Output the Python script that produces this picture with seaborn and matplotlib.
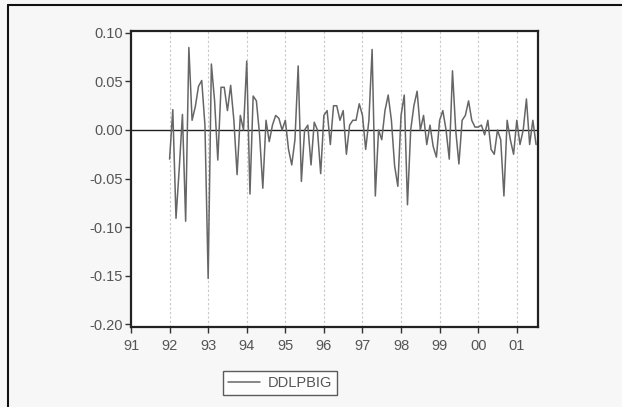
import numpy as np
import pandas as pd
import seaborn as sns
import matplotlib
matplotlib.use("Agg")
from matplotlib import pyplot as plt
from matplotlib.lines import Line2D

# monthly values, 1992:01 .. 2001:07
ddlpbig = [
    -0.030, 0.021, -0.091, -0.040, 0.016, -0.094, 0.085, 0.010, 0.024, 0.045, 0.051, 0.005,
    -0.153, 0.068, 0.030, -0.031, 0.044, 0.044, 0.020, 0.046, 0.010, -0.046, 0.015, 0.000,
    0.071, -0.066, 0.035, 0.030, -0.005, -0.060, 0.010, -0.012, 0.005, 0.015, 0.012, 0.000,
    0.010, -0.020, -0.036, -0.010, 0.066, -0.053, 0.000, 0.005, -0.036, 0.008, 0.000, -0.045,
    0.015, 0.020, -0.015, 0.025, 0.025, 0.010, 0.020, -0.025, 0.005, 0.010, 0.010, 0.027,
    0.015, -0.020, 0.010, 0.083, -0.068, 0.000, -0.010, 0.020, 0.036, 0.010, -0.037, -0.058,
    0.015, 0.036, -0.077, 0.000, 0.025, 0.040, 0.000, 0.015, -0.015, 0.005, -0.017, -0.028,
    0.010, 0.020, 0.000, -0.030, 0.061, 0.000, -0.035, 0.010, 0.015, 0.030, 0.010, 0.003,
    0.003, 0.005, -0.005, 0.010, -0.020, -0.025, 0.000, -0.010, -0.068, 0.010, -0.010, -0.025,
    0.010, -0.015, 0.000, 0.032, -0.015, 0.010, -0.015,
]
dates = pd.date_range("1992-01-01", periods=len(ddlpbig), freq="MS")
year_ticks = list(range(1991, 2002))
year_labels = ["91", "92", "93", "94", "95", "96", "97", "98", "99", "00", "01"]
y_ticks = [0.10, 0.05, 0.00, -0.05, -0.10, -0.15, -0.20]

df = pd.DataFrame({"t": dates.year + (dates.month - 1) / 12.0, "DDLPBIG": ddlpbig})

sns.set_style("white")
plt.rcParams["font.family"] = ["Liberation Sans", "DejaVu Sans"]

fig = plt.figure(figsize=(6.22, 4.07), dpi=100, facecolor="#f7f7f7")
ax = fig.add_axes([131 / 622, 1 - 327 / 407, (538 - 131) / 622, (327 - 31) / 407])
ax.set_facecolor("white")

for yr in year_ticks[1:]:
    ax.axvline(yr, color="#c8c8c8", lw=0.8, ls=(0, (2, 2)), zorder=0)
ax.axhline(0, color="#202020", lw=1.0, zorder=1)

sns.lineplot(data=df, x="t", y="DDLPBIG", ax=ax, color="#666666", lw=1.1,
             label="DDLPBIG", legend=False, zorder=2)

ax.set_xlim(1991, 2001 + 6.6 / 12)
ax.set_ylim(-0.203, 0.102)
ax.set_xticks(year_ticks)
ax.set_xticklabels(year_labels)
ax.set_yticks(y_ticks)
ax.set_yticklabels([f"{v:.2f}" for v in y_ticks])
ax.set_xlabel("")
ax.set_ylabel("")
ax.tick_params(axis="both", direction="out", length=4, width=1, colors="#333333",
               labelsize=10.5, labelcolor="#555555", bottom=True, left=True)
ax.tick_params(axis="x", pad=5)
ax.tick_params(axis="y", pad=2)
for s in ax.spines.values():
    s.set_color("#222222")
    s.set_linewidth(1.6)

handles, labels = ax.get_lines()[-1:], ["DDLPBIG"]
leg = fig.legend(handles, labels, loc="center", bbox_to_anchor=(280 / 622, 1 - 383 / 407),
                 frameon=True, fancybox=False, fontsize=10.5, handlelength=2.2,
                 borderpad=0.35, handletextpad=0.5)
leg.get_frame().set_edgecolor("#333333")
leg.get_frame().set_linewidth(1.0)
for t in leg.get_texts():
    t.set_color("#555555")

# outer frame (top and left edges)
fig.add_artist(Line2D([8 / 622, 8 / 622], [0, 1 - 5 / 407], transform=fig.transFigure,
                      color="#111111", lw=1.5))
fig.add_artist(Line2D([8 / 622, 1], [1 - 5 / 407, 1 - 5 / 407], transform=fig.transFigure,
                      color="#111111", lw=1.5))

fig.savefig("out.png", dpi=100, facecolor=fig.get_facecolor())
